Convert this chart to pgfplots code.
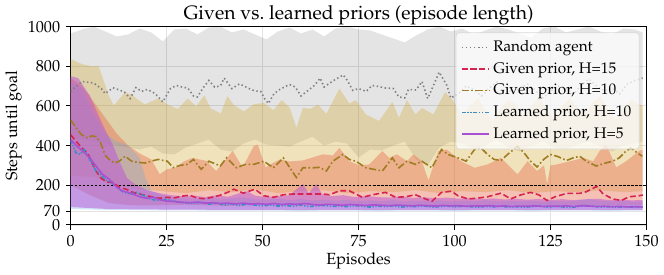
\documentclass[border=0pt]{standalone}
\usepackage[T1]{fontenc}
\usepackage{mathpazo}
\usepackage{pgfplots}
\pgfplotsset{compat=1.18}
\usepgfplotslibrary{fillbetween}
\definecolor{randcol}{RGB}{128,128,128}
\definecolor{hfifteen}{RGB}{215,35,80}
\definecolor{hfifteenband}{RGB}{230,100,70}
\definecolor{hten}{RGB}{160,125,35}
\definecolor{htenband}{RGB}{210,168,50}
\definecolor{lten}{RGB}{60,140,200}
\definecolor{ltenband}{RGB}{100,170,230}
\definecolor{lfive}{RGB}{170,80,210}
\definecolor{lfiveband}{RGB}{185,80,215}
\begin{document}
\begin{tikzpicture}
\begin{axis}[
  scale only axis, width=357pt, height=123pt,
  xmin=0, xmax=150, ymin=0, ymax=1000,
  xtick={0,25,50,75,100,125,150},
  ytick={0,70,200,400,600,800,1000},
  /pgf/number format/1000 sep={},
  xtick pos=bottom, ytick pos=left, tick align=outside,
  major tick length=3pt,
  tick style={black, line width=0.6pt},
  axis line style={black, line width=0.7pt},
  grid=major, major grid style={gray!22, line width=0.5pt},
  title={Given vs.\ learned priors (episode length)},
  title style={font=\large, yshift=-8.5pt},
  xlabel={Episodes}, ylabel={Steps until goal},
  xlabel style={yshift=3pt}, ylabel style={yshift=-3pt},
  legend style={at={(0.988,0.97)}, anchor=north east, fill=white, fill opacity=0.75, text opacity=1, draw=gray!30, rounded corners=2pt, font=\fontsize{9.5}{11}\selectfont, row sep=1.2pt, inner sep=3pt},
  legend cell align=left,
]
% ---------- Random agent band ----------
\addplot[name path=ru, draw=none, forget plot] coordinates {
(0,965)(3,985)(6,1000)(9,975)(12,950)(15,960)(18,990)(21,970)(24,925)(27,985)(30,990)(33,960)(36,995)(39,1000)(42,970)(45,985)(48,960)(51,935)(54,975)(57,995)(60,965)(63,985)(66,950)(69,990)(72,1000)(75,985)(78,980)(81,960)(84,940)(87,920)(90,955)(93,985)(96,1000)(99,975)(102,990)(105,960)(108,980)(111,1000)(114,985)(117,965)(120,945)(123,990)(126,1000)(129,970)(132,985)(135,1000)(138,975)(141,960)(144,990)(147,985)(149,970)};
\addplot[name path=rl, draw=none, forget plot] coordinates {
(0,440)(3,430)(6,420)(9,410)(12,400)(15,390)(18,380)(21,395)(24,360)(27,355)(30,390)(33,410)(36,430)(39,380)(42,370)(45,410)(48,430)(51,405)(54,400)(57,395)(60,420)(63,445)(66,400)(69,420)(72,410)(75,340)(78,380)(81,375)(84,400)(87,420)(90,330)(93,300)(96,390)(99,420)(102,410)(105,380)(108,400)(111,430)(114,390)(117,370)(120,400)(123,420)(126,390)(129,380)(132,405)(135,420)(138,395)(141,370)(144,400)(147,410)(149,420)};
\addplot[black, fill opacity=0.105, draw=none, forget plot] fill between[of=ru and rl];
% ---------- Given prior H=10 band ----------
\addplot[name path=gtu, draw=none, forget plot] coordinates {
(0,836)(3,810)(5.5,800)(7.3,802)(9.9,653)(11.2,602)(14.2,670)(15.9,655)(19.3,607)(22.7,637)(25.3,607)(27.9,584)(30.5,637)(32.7,597)(34.8,653)(36.5,587)(39.1,562)(40.8,650)(42.5,604)(45.1,572)(47.7,608)(50.3,615)(52.8,579)(55,629)(57.1,590)(58.8,490)(60.5,590)(62.5,585)(64.4,607)(66.6,560)(70,687)(72.6,612)(74.3,629)(76.9,557)(80.3,524)(83.8,620)(85.5,540)(87.6,629)(89.8,557)(91.5,590)(94.5,557)(97.5,670)(99.2,637)(102,560)(104,600)(106,640)(108,580)(110,520)(112,590)(114,630)(116,610)(118,545)(120,600)(122,650)(124,580)(126,540)(128,600)(130,640)(132,590)(134,560)(136,620)(138,650)(140,580)(142,530)(144,590)(146,630)(148,610)(149,600)};
\addplot[name path=gtl, draw=none, forget plot] coordinates {
(0,250)(6,240)(12,200)(18,180)(24,170)(30,160)(36,175)(42,165)(48,180)(54,160)(60,170)(66,175)(72,160)(78,170)(84,165)(90,175)(96,160)(102,170)(108,165)(114,175)(120,160)(126,170)(132,165)(138,175)(144,165)(149,170)};
\addplot[htenband, fill opacity=0.33, draw=none, forget plot] fill between[of=gtu and gtl];
% ---------- Given prior H=15 band ----------
\addplot[name path=gfu, draw=none, forget plot] coordinates {
(0,740)(3,700)(6,620)(9,540)(12,460)(15,400)(18,360)(21,330)(23.2,255)(25,280)(27.5,290)(29.5,320)(31.8,338)(33.5,330)(35.3,323)(37.9,272)(40,320)(42.2,373)(44.8,290)(47.7,397)(48.7,405)(50.8,290)(52,305)(54.5,330)(57,320)(60.5,325)(63,340)(65.7,356)(68.3,350)(70,388)(72.6,321)(75.2,300)(77.8,305)(81.2,373)(83,338)(85,356)(87.6,321)(89.3,356)(91.5,320)(93.2,224)(94.5,300)(95.8,373)(98,380)(101.8,320)(105.2,288)(108.6,305)(112.1,338)(113.8,305)(116.4,254)(119,321)(121.5,272)(123.3,300)(124.1,207)(125,300)(126.7,305)(130.1,321)(133.6,338)(136.1,321)(137.8,373)(139.5,405)(142.1,290)(144.7,321)(148.1,373)(149,380)};
\addplot[name path=gfl, draw=none, forget plot] coordinates {
(0,200)(5,150)(10,110)(15,100)(20,98)(30,102)(40,96)(50,100)(60,97)(70,102)(80,96)(90,99)(100,97)(110,101)(120,96)(130,100)(140,97)(149,99)};
\addplot[hfifteenband, fill opacity=0.4, draw=none, forget plot] fill between[of=gfu and gfl];
% ---------- Learned prior H=10 band ----------
\addplot[name path=ltu, draw=none, forget plot] coordinates {
(0,720)(3,690)(6,560)(9,460)(12,420)(14.7,403)(16.5,370)(18,338)(19.5,236)(21,170)(24,150)(27,140)(30,135)(33,130)(36,138)(39,128)(42,135)(45,140)(48,130)(51,128)(54,132)(57,126)(60,130)(63,124)(66,128)(69,122)(72,126)(75,120)(78,124)(81,120)(84,125)(87,118)(90,122)(93,120)(96,124)(99,118)(102,122)(105,119)(108,125)(111,118)(114,121)(117,119)(120,123)(123,117)(126,121)(129,118)(132,124)(135,130)(138,122)(141,118)(144,121)(147,117)(149,118)};
\addplot[name path=ltl, draw=none, forget plot] coordinates {
(0,80)(10,76)(20,74)(30,73)(40,72)(50,72)(60,71)(70,72)(80,71)(90,72)(100,71)(110,72)(120,71)(130,72)(140,71)(149,72)};
\addplot[ltenband, fill opacity=0.3, draw=none, forget plot] fill between[of=ltu and ltl];
% ---------- Learned prior H=5 band ----------
\addplot[name path=lfu, draw=none, forget plot] coordinates {
(0,750)(2,740)(4,680)(5,652)(8.4,503)(11,403)(13,308)(14.7,236)(17,202)(20,175)(23,160)(26,150)(29,145)(32,148)(35,140)(38,150)(41,142)(44,160)(46,170)(48,148)(51,140)(54,145)(57,150)(58.5,175)(60.5,206)(62,160)(64,206)(65.5,155)(68,145)(71,150)(74,140)(77,146)(80,140)(83,138)(86,144)(89,136)(92,140)(95,134)(98,138)(101,132)(104,136)(107,130)(110,134)(113,128)(116,132)(119,127)(122,131)(125,126)(128,130)(131,125)(134,129)(137,132)(140,126)(143,128)(146,124)(149,125)};
\addplot[name path=lfl, draw=none, forget plot] coordinates {
(0,90)(5,85)(10,80)(20,78)(30,77)(40,76)(50,76)(60,75)(70,76)(80,75)(90,76)(100,75)(110,76)(120,75)(130,76)(140,75)(149,76)};
\addplot[lfiveband, fill opacity=0.5, draw=none, forget plot] fill between[of=lfu and lfl];
% ---------- threshold line ----------
\addplot[draw=black, line width=0.5pt, dash pattern=on 1.5pt off 1pt, forget plot] coordinates {(0,200)(150,200)};
% ---------- Mean lines ----------
\addplot[draw=randcol, line width=1pt, dash pattern=on 0.9pt off 1.6pt] coordinates {
(0,672)(1,690)(3,723)(5,718)(6,715)(8,687)(9,662)(11,691)(12,685)(14,670)(15.5,637)(17,692)(18.5,673)(20,683)(22,662)(24,620)(26,687)(27.5,703)(29,695)(30.5,690)(32,650)(33,645)(34.5,690)(36,728)(37.5,695)(39,700)(40,740)(42,687)(44,711)(46.5,687)(48,675)(49.5,673)(50.5,637)(51.5,612)(53,662)(54.5,683)(57,708)(58.5,695)(60,650)(62,680)(63.5,703)(65,740)(66,695)(68.5,728)(71,756)(72,730)(73.5,678)(75,687)(77,673)(78.5,703)(80,698)(82,690)(84,688)(85.5,645)(87,640)(88,683)(90,680)(91.5,723)(93,637)(94.5,703)(96,770)(98,703)(99,640)(101,660)(103,700)(105,680)(107,650)(109,690)(111,720)(113,700)(115,668)(117,690)(119,710)(121,680)(123,640)(125,672)(127,700)(129,690)(131,660)(133,705)(135,735)(137,700)(139,675)(141,690)(143,660)(145,710)(147,728)(149,740)};
\addlegendentry{Random agent}
\addplot[draw=hfifteen, line width=1pt, dash pattern=on 3.6pt off 1.8pt] coordinates {
(0,454)(1.8,413)(2.9,388)(4.4,363)(5.4,322)(6.6,272)(8,234)(9.3,217)(11,214)(12.8,189)(14.5,180)(16.2,164)(18,156)(19.6,148)(21.5,140)(23,134)(25,139)(27,136)(29,145)(31,150)(33,135)(35,132)(37,140)(39,150)(41,165)(42.5,180)(45,160)(46.8,172)(48,180)(50.3,147)(52.8,139)(55.4,152)(58,156)(60.5,156)(63.1,156)(65.7,156)(67.4,152)(70,172)(72.6,172)(76,139)(78.6,152)(82,164)(84.7,139)(87.2,142)(89.8,152)(92.4,131)(94.1,119)(96.6,164)(99.2,170)(100.9,147)(103.5,131)(106.1,135)(108.6,142)(112.1,160)(114.6,131)(117.2,151)(119.8,164)(121.9,152)(124.1,123)(126.2,142)(129.2,159)(132.6,159)(134.3,167)(137,194)(138.7,156)(141.2,131)(143.4,123)(145.5,142)(148.1,147)(149,151)};
\addlegendentry{Given prior, H=15}
\addplot[draw=hten, line width=1pt, dash pattern=on 4.5pt off 1.5pt on 1pt off 1.5pt] coordinates {
(0,529)(1.8,479)(2.9,454)(4.4,438)(5.4,449)(6.6,445)(7.8,413)(9.1,348)(10.4,323)(11.6,312)(12.8,323)(14.2,346)(15.9,321)(17.5,315)(19.6,312)(21.3,323)(22.8,330)(25.2,321)(26.7,289)(28.5,300)(30.3,305)(32,330)(34,280)(36,321)(39,297)(40.6,338)(43.2,288)(45.5,305)(47.7,305)(50.3,321)(52.8,288)(55.4,338)(57.1,288)(58.8,239)(60.5,288)(63.1,288)(64.8,290)(66.6,272)(68.3,321)(70.9,355)(72.6,330)(74.3,321)(76.9,288)(79,280)(81.2,272)(83.8,338)(85.5,288)(87.6,321)(89.8,305)(91.5,321)(94.1,288)(96.6,380)(98.3,355)(100.9,338)(103,321)(105.2,380)(106.9,388)(108.6,355)(110.3,330)(112.1,325)(113.8,355)(116.4,396)(118.1,363)(119.8,321)(121.5,292)(123.2,330)(124.9,355)(126.7,346)(129.2,325)(130.9,338)(132.6,346)(134.3,321)(136.9,297)(139.5,313)(141.2,321)(142.9,338)(144.6,371)(145.9,388)(147.6,363)(148.9,346)};
\addlegendentry{Given prior, H=10}
\addplot[draw=lten, line width=1pt, dash pattern=on 2.5pt off 1pt on 0.8pt off 1pt on 0.8pt off 1pt] coordinates {
(0,429)(1.4,363)(2.5,356)(3.5,380)(4.3,356)(5.4,313)(6.6,272)(7.8,255)(9.1,226)(10.4,216)(12.1,189)(13.8,164)(15.6,156)(17.3,164)(19,148)(20.7,131)(22.4,123)(24,128)(26,125)(28,115)(30,112)(32,108)(34,115)(36,105)(38,110)(40,100)(42,104)(44,98)(46,105)(48,100)(50,96)(52,100)(54,95)(56,98)(58,94)(60,100)(62,92)(64,96)(66,98)(68,93)(70,96)(72,92)(74,97)(76,94)(78,90)(80,95)(82,92)(84,96)(86,90)(88,93)(90,92)(92,96)(94,90)(96,92)(98,95)(100,91)(102,94)(104,92)(106,89)(108,93)(110,91)(112,94)(114,90)(116,92)(118,89)(120,92)(122,95)(124,90)(126,93)(128,91)(130,88)(132,92)(134,98)(136,94)(138,90)(140,92)(142,89)(144,91)(146,90)(148,89)(149,90)};
\addlegendentry{Learned prior, H=10}
\addplot[draw=lfive, line width=1pt] coordinates {
(0,430)(1.5,400)(3.2,371)(5,338)(6.6,297)(8.3,255)(10,231)(11.8,194)(13.4,172)(15,164)(16.8,151)(18.5,139)(20,134)(21.5,140)(23,128)(25,120)(27,118)(29,114)(31,112)(33,115)(35,110)(37,112)(39,108)(41,110)(43,106)(45,110)(47,105)(49,107)(51,104)(53,108)(55,103)(57,106)(59,104)(61,108)(63,103)(65,100)(67,104)(69,101)(71,99)(73,103)(75,100)(77,98)(79,101)(81,99)(83,97)(85,100)(87,98)(89,96)(91,99)(93,97)(95,95)(97,98)(99,96)(101,97)(103,94)(105,96)(107,95)(109,97)(111,94)(113,96)(115,93)(117,95)(119,94)(121,96)(123,93)(125,95)(127,94)(129,96)(131,93)(133,97)(135,95)(137,93)(139,94)(141,92)(143,93)(145,91)(147,92)(149,91)};
\addlegendentry{Learned prior, H=5}
\end{axis}
\end{tikzpicture}
\end{document}
